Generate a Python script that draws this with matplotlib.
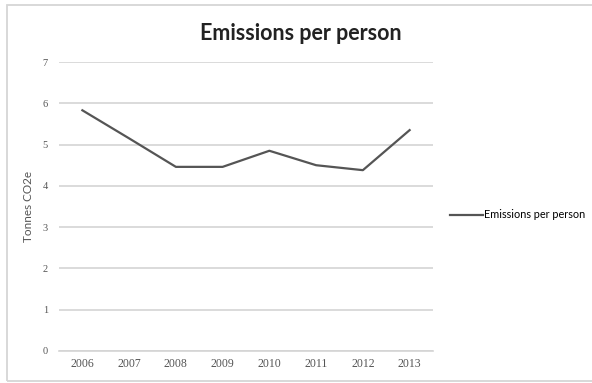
import matplotlib
matplotlib.use('Agg')
import matplotlib.pyplot as plt
from matplotlib.patches import Rectangle

# Emissions per person, tonnes CO2e
years = ['2006', '2007', '2008', '2009', '2010', '2011', '2012', '2013']
emissions = [5.83, 5.15, 4.46, 4.46, 4.85, 4.50, 4.38, 5.35]
y_ticks = [0, 1, 2, 3, 4, 5, 6, 7]

fig = plt.figure(figsize=(5.92, 3.83), dpi=100)
ax = fig.add_axes([59 / 592, 1 - 351 / 383, 374 / 592, 289 / 383])

x = range(len(years))
ax.plot(x, emissions, color='#555555', linewidth=1.6, label='Emissions per person')

ax.set_xlim(-0.5, len(years) - 0.5)
ax.set_ylim(0, 7)
ax.set_yticks(y_ticks)
ax.set_xticks(list(x))
ax.set_xticklabels(years)
ax.grid(axis='y', color='#d4d4d4', linewidth=1.2)
ax.set_axisbelow(True)
for side in ['top', 'right', 'left']:
    ax.spines[side].set_visible(False)
ax.spines['bottom'].set_color('#d4d4d4')
ax.spines['bottom'].set_linewidth(1.2)
ax.tick_params(axis='x', length=0, labelsize=8.5, labelcolor='#555555', pad=5)
ax.tick_params(axis='y', length=0, labelsize=7.5, labelcolor='#555555', pad=8)
for lbl in ax.get_xticklabels() + ax.get_yticklabels():
    lbl.set_family('Liberation Serif')

ax.set_ylabel('Tonnes CO2e', fontsize=8.5, color='#555555', family='Lato', labelpad=6)

fig.text(301 / 592, 1 - 33 / 383, 'Emissions per person', ha='center', va='center',
         fontsize=15.5, fontweight='bold', family='Lato', color='#222222')

ax.legend(loc='center left', bbox_to_anchor=(450 / 592, 1 - 215 / 383),
          bbox_transform=fig.transFigure, frameon=False,
          handlelength=3.0, handletextpad=0.1, borderaxespad=0, borderpad=0,
          prop={'family': 'Lato', 'size': 7.8})

# light frame round the chart area
fig.patches.append(Rectangle((7 / 592, 2 / 383), 600 / 592, 376 / 383,
                             transform=fig.transFigure, fill=False,
                             edgecolor='#d6d6d6', linewidth=1.3))

fig.savefig('out.png', dpi=100)
